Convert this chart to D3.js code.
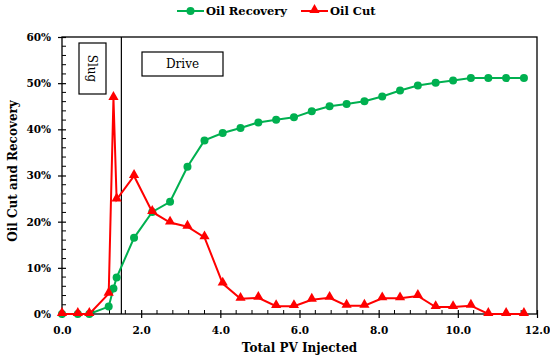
<!DOCTYPE html>
<html>
<head>
<meta charset="utf-8">
<script src="https://cdn.jsdelivr.net/npm/d3@7"></script>
<style>
  body { margin: 0; background: #fff; }
</style>
</head>
<body>
<div id="chart"></div>
<script>
// valori
const pvInjected = [0, 0.40, 0.69, 1.18, 1.30, 1.38, 1.82, 2.28, 2.73, 3.17, 3.60, 4.06, 4.51, 4.96, 5.41, 5.86,
  6.31, 6.76, 7.19, 7.64, 8.09, 8.54, 8.99, 9.44, 9.88, 10.33, 10.77, 11.22, 11.67];
const oilRecovery = [0, 0, 0, 1.6, 5.5, 7.9, 16.5, 22.1, 24.3, 31.9, 37.6, 39.2, 40.3, 41.5, 42.1, 42.6,
  43.9, 45.0, 45.5, 46.1, 47.1, 48.4, 49.5, 50.1, 50.6, 51.1, 51.1, 51.1, 51.1];
const oilCut = [0, 0, 0, 4.4, 46.8, 24.8, 29.9, 22.1, 19.8, 18.9, 16.6, 6.6, 3.3, 3.5, 1.7, 1.7,
  3.1, 3.5, 1.8, 1.8, 3.4, 3.4, 3.9, 1.5, 1.5, 1.8, 0, 0, 0];
const xTicks = [0, 2, 4, 6, 8, 10, 12];
const yTicks = [0, 10, 20, 30, 40, 50, 60];
const slugEnd = 1.5;

const W = 550, H = 361;
const pLeft = 62, pRight = 537, pTop = 37, pBottom = 314;
const serif = "'DejaVu Serif', 'Liberation Serif', serif";

const svg = d3.select("#chart").append("svg")
  .attr("width", W).attr("height", H)
  .attr("font-family", serif);

const x = d3.scaleLinear().domain([0, 12]).range([pLeft, pRight]);
const y = d3.scaleLinear().domain([0, 60]).range([pBottom, pTop]);

const green = "#00b050", red = "#ff0000";

// riquadro
svg.append("rect")
  .attr("x", pLeft).attr("y", pTop)
  .attr("width", pRight - pLeft).attr("height", pBottom - pTop)
  .attr("fill", "none").attr("stroke", "#000").attr("stroke-width", 1.3);

// tick minori (verso l'interno)
const xMinor = d3.range(0, 12.01, 0.4).filter(v => Math.abs(v / 2 - Math.round(v / 2)) > 0.01);
svg.append("g").selectAll("line").data(xMinor).join("line")
  .attr("x1", d => x(d)).attr("x2", d => x(d))
  .attr("y1", pBottom).attr("y2", pBottom - 4)
  .attr("stroke", "#000");
const yMinor = d3.range(0, 60.01, 2).filter(v => v % 10 !== 0);
svg.append("g").selectAll("line").data(yMinor).join("line")
  .attr("x1", pLeft).attr("x2", pLeft + 4)
  .attr("y1", d => y(d)).attr("y2", d => y(d))
  .attr("stroke", "#000");

// assi principali
svg.append("g")
  .attr("transform", `translate(0,${pBottom})`)
  .call(d3.axisBottom(x).tickValues(xTicks).tickFormat(d3.format(".1f")).tickSize(4).tickSizeOuter(0))
  .call(g => g.attr("font-family", serif).attr("font-weight", "bold"))
  .call(g => g.select(".domain").remove())
  .call(g => g.selectAll(".tick line").attr("y1", -4).attr("stroke-width", 1.2))
  .call(g => g.selectAll("text").attr("font-size", 10.5).attr("dy", "1.2em"));

svg.append("g")
  .attr("transform", `translate(${pLeft},0)`)
  .call(d3.axisLeft(y).tickValues(yTicks).tickFormat(d => d + "%").tickSize(4).tickSizeOuter(0))
  .call(g => g.attr("font-family", serif).attr("font-weight", "bold"))
  .call(g => g.select(".domain").remove())
  .call(g => g.selectAll(".tick line").attr("x1", 4).attr("stroke-width", 1.2))
  .call(g => g.selectAll("text").attr("font-size", 10.5).attr("x", -11));

// linea separazione slug / drive
svg.append("line")
  .attr("x1", x(slugEnd)).attr("x2", x(slugEnd))
  .attr("y1", pTop).attr("y2", pBottom)
  .attr("stroke", "#000").attr("stroke-width", 1.2);

// etichette Slug e Drive
svg.append("rect").attr("x", 79).attr("y", 43).attr("width", 27).attr("height", 51)
  .attr("fill", "#fff").attr("stroke", "#000").attr("stroke-width", 1.2);
svg.append("text")
  .attr("transform", `translate(92.5,68.5) rotate(90)`)
  .attr("text-anchor", "middle").attr("dy", "0.35em")
  .attr("font-size", 12)
  .text("Slug");
svg.append("rect").attr("x", 142).attr("y", 52).attr("width", 81).attr("height", 24)
  .attr("fill", "#fff").attr("stroke", "#000").attr("stroke-width", 1.2);
svg.append("text")
  .attr("x", 182.5).attr("y", 64).attr("dy", "0.35em")
  .attr("text-anchor", "middle").attr("font-size", 12)
  .text("Drive");

// serie
const line = (vals) => d3.line().x((d, i) => x(pvInjected[i])).y(d => y(d))(vals);
const tri = d3.symbol().type(d3.symbolTriangle).size(45);

svg.append("path").attr("d", line(oilRecovery))
  .attr("fill", "none").attr("stroke", green).attr("stroke-width", 2);
svg.append("g").selectAll("circle").data(oilRecovery).join("circle")
  .attr("cx", (d, i) => x(pvInjected[i])).attr("cy", d => y(d))
  .attr("r", 4).attr("fill", green);

svg.append("path").attr("d", line(oilCut))
  .attr("fill", "none").attr("stroke", red).attr("stroke-width", 2);
svg.append("g").selectAll("path").data(oilCut).join("path")
  .attr("d", tri)
  .attr("transform", (d, i) => `translate(${x(pvInjected[i])},${y(d) - 1})`)
  .attr("fill", red);

// titoli assi
svg.append("text")
  .attr("x", (pLeft + pRight) / 2).attr("y", 352)
  .attr("text-anchor", "middle").attr("font-size", 12).attr("font-weight", "bold")
  .text("Total PV Injected");
svg.append("text")
  .attr("transform", `translate(13,171) rotate(-90)`)
  .attr("text-anchor", "middle").attr("dy", "0.35em").attr("font-size", 12).attr("font-weight", "bold")
  .text("Oil Cut and Recovery");

// legenda
const legend = [
  { name: "Oil Recovery", color: green, x: 177, mark: "circle" },
  { name: "Oil Cut", color: red, x: 301, mark: "tri" }
];
const lg = svg.append("g").selectAll("g").data(legend).join("g")
  .attr("transform", d => `translate(${d.x},11)`);
lg.append("line").attr("x1", 0).attr("x2", 27)
  .attr("stroke", d => d.color).attr("stroke-width", 2);
lg.filter(d => d.mark === "circle").append("circle")
  .attr("cx", 13.5).attr("r", 4).attr("fill", d => d.color);
lg.filter(d => d.mark === "tri").append("path")
  .attr("d", tri).attr("transform", "translate(13.5,-1)").attr("fill", d => d.color);
lg.append("text").attr("x", 29).attr("dy", "0.35em")
  .attr("font-size", 11.5).attr("font-weight", "bold")
  .text(d => d.name);
</script>
</body>
</html>
